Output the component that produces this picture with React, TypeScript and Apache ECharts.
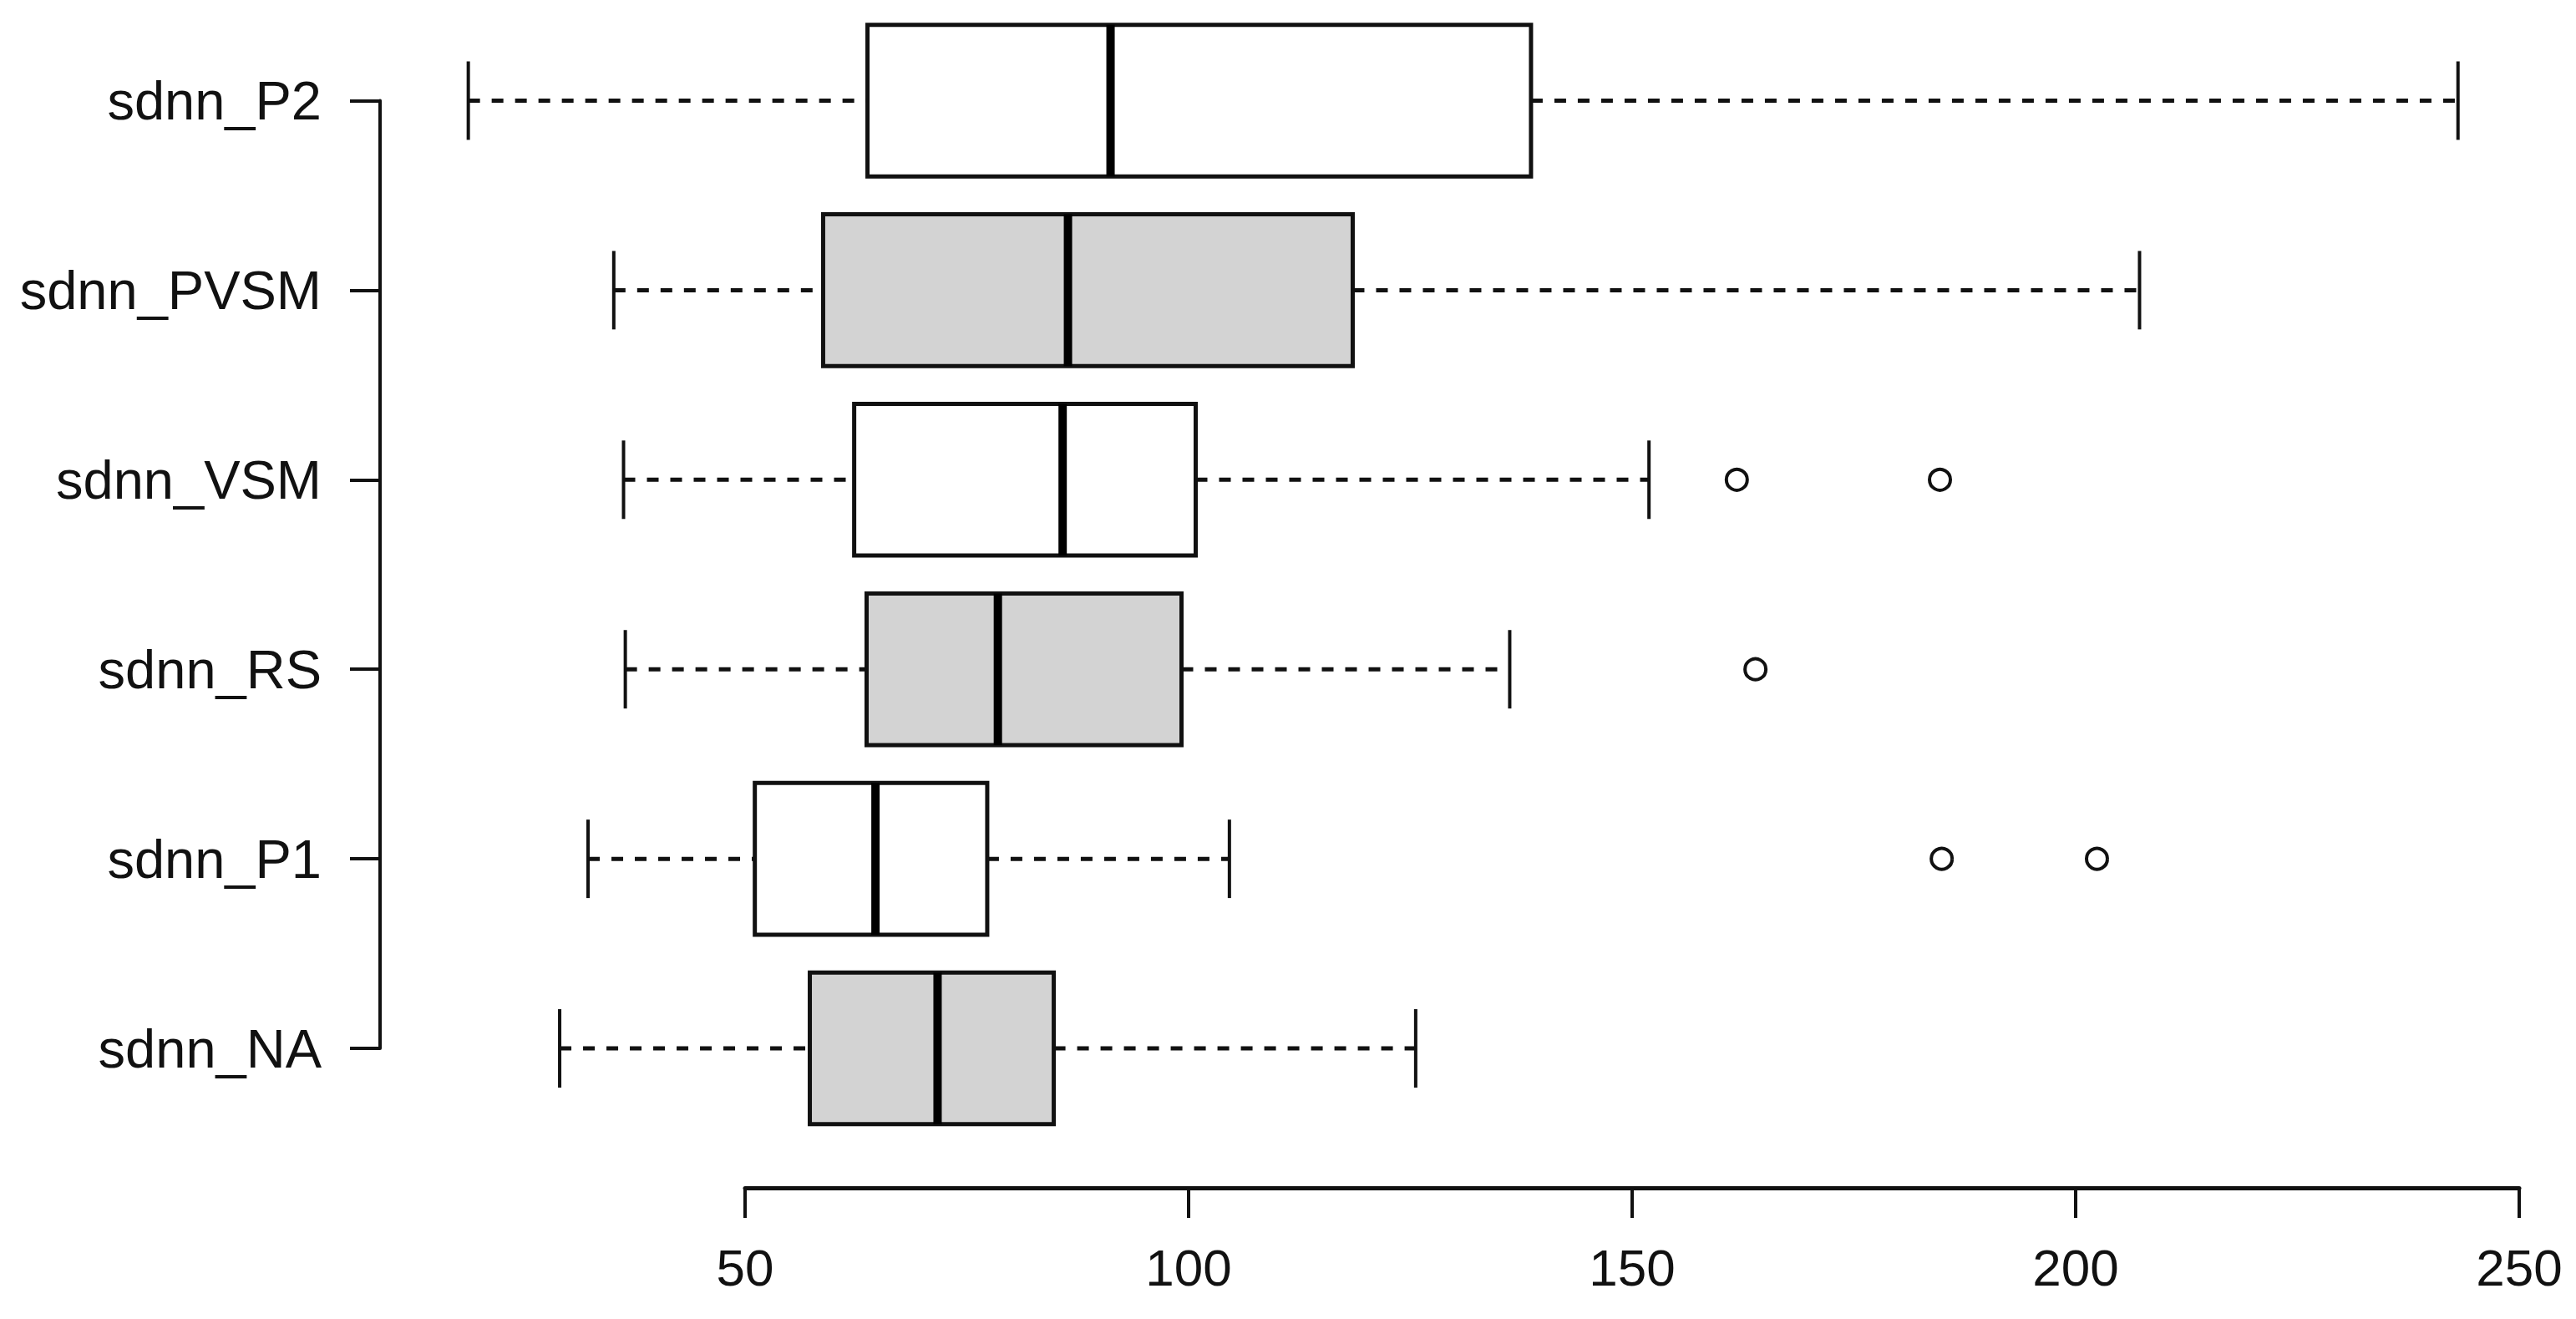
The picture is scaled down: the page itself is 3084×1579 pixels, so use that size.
import React, { useEffect, useRef } from "react";
import * as echarts from "echarts";

// Categories from bottom (index 0) to top
const categories = ["sdnn_NA", "sdnn_P1", "sdnn_RS", "sdnn_VSM", "sdnn_PVSM", "sdnn_P2"];
const lowWhiskers = [29.1, 32.3, 36.5, 36.3, 35.2, 18.8];
const q1s = [57.3, 51.1, 63.7, 62.3, 58.8, 63.8];
const medians = [71.7, 64.7, 78.5, 85.8, 86.4, 91.2];
const q3s = [84.8, 77.3, 99.2, 100.8, 118.5, 138.6];
const highWhiskers = [125.6, 104.6, 136.2, 151.9, 207.2, 243.1];
const boxFills = ["#d3d3d3", "#ffffff", "#d3d3d3", "#ffffff", "#d3d3d3", "#ffffff"];
// outliers: [value, category index]
const outlierValues = [161.8, 184.7, 163.9, 184.9, 202.4];
const outlierCats = [3, 3, 2, 1, 1];
const xTicks = { min: 50, max: 250, interval: 50 };

export default function App() {
  const ref = useRef<HTMLDivElement>(null);
  useEffect(() => {
    if (!ref.current) return;
    const chart = echarts.init(ref.current, null, { renderer: "svg" });
    const boxData = categories.map((_, i) => [
      i,
      lowWhiskers[i],
      q1s[i],
      medians[i],
      q3s[i],
      highWhiskers[i],
    ]);
    const outliers = outlierValues.map((v, i) => [v, outlierCats[i]]);
    const font = "'Liberation Sans', Arial, Helvetica, sans-serif";
    const option: any = {
      animation: false,
      backgroundColor: "#ffffff",
      grid: [
        { left: 892, right: 68, top: 7, bottom: 210.5 },
        { left: 455, width: 10, top: 120.5, bottom: 324 },
      ],
      xAxis: [
        {
          gridIndex: 0,
          type: "value",
          min: xTicks.min,
          max: xTicks.max,
          interval: xTicks.interval,
          offset: 53.5,
          axisLine: { show: true, lineStyle: { color: "#111", width: 5 } },
          axisTick: { show: true, length: 36, lineStyle: { color: "#111", width: 4 } },
          axisLabel: {
            show: true,
            color: "#111",
            fontSize: 62,
            fontFamily: font,
            margin: 64,
            showMinLabel: true,
            showMaxLabel: true,
          },
          splitLine: { show: false },
        },
        { gridIndex: 1, type: "value", show: false },
      ],
      yAxis: [
        {
          gridIndex: 0,
          type: "category",
          data: categories,
          show: false,
        },
        {
          gridIndex: 1,
          type: "category",
          data: categories,
          boundaryGap: false,
          axisLine: { show: true, lineStyle: { color: "#111", width: 4 } },
          axisTick: { show: true, length: 36, lineStyle: { color: "#111", width: 4 } },
          axisLabel: {
            show: true,
            color: "#111",
            fontSize: 65,
            fontFamily: font,
            margin: 70,
            interval: 0,
          },
          splitLine: { show: false },
        },
      ],
      series: [
        {
          type: "custom",
          xAxisIndex: 0,
          yAxisIndex: 0,
          clip: false,
          encode: { x: [1, 2, 3, 4, 5], y: 0 },
          data: boxData,
          renderItem: (params: any, api: any) => {
            const cat = api.value(0);
            const lo = api.coord([api.value(1), cat]);
            const q1 = api.coord([api.value(2), cat]);
            const md = api.coord([api.value(3), cat]);
            const q3 = api.coord([api.value(4), cat]);
            const hi = api.coord([api.value(5), cat]);
            const band = api.size([0, 1])[1];
            const hb = band * 0.4;
            const hc = band * 0.207;
            const y = lo[1];
            const fill = boxFills[params.dataIndex];
            const dash = { stroke: "#111", lineWidth: 5, lineDash: [14, 14] };
            const solid = { stroke: "#111", lineWidth: 4 };
            return {
              type: "group",
              children: [
                { type: "line", shape: { x1: lo[0], y1: y, x2: q1[0], y2: y }, style: dash },
                { type: "line", shape: { x1: q3[0], y1: y, x2: hi[0], y2: y }, style: dash },
                { type: "line", shape: { x1: lo[0], y1: y - hc, x2: lo[0], y2: y + hc }, style: solid },
                { type: "line", shape: { x1: hi[0], y1: y - hc, x2: hi[0], y2: y + hc }, style: solid },
                {
                  type: "rect",
                  shape: { x: q1[0], y: y - hb, width: q3[0] - q1[0], height: 2 * hb },
                  style: { fill, stroke: "#111", lineWidth: 5 },
                },
                {
                  type: "line",
                  shape: { x1: md[0], y1: y - hb, x2: md[0], y2: y + hb },
                  style: { stroke: "#000", lineWidth: 10 },
                },
              ],
            };
          },
        },
        {
          type: "scatter",
          xAxisIndex: 0,
          yAxisIndex: 0,
          clip: false,
          symbol: "circle",
          symbolSize: 25,
          itemStyle: { color: "#ffffff", borderColor: "#111", borderWidth: 4, opacity: 1 },
          data: outliers,
        },
      ],
    };
    chart.setOption(option);
    return () => chart.dispose();
  }, []);
  return (
    <div
      ref={ref}
      style={{ position: "absolute", left: 0, top: 0, width: 3084, height: 1579, background: "#fff" }}
    />
  );
}
